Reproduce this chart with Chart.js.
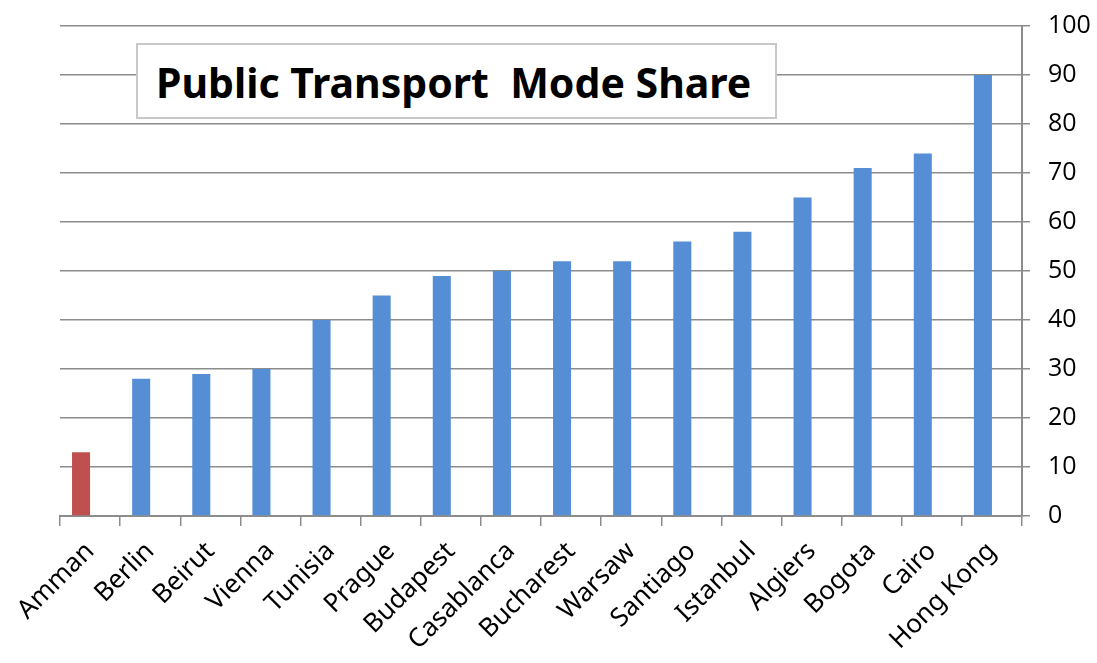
<!DOCTYPE html>
<html>
<head>
<meta charset="utf-8">
<title>Public Transport Mode Share</title>
<script src="https://cdn.jsdelivr.net/npm/chart.js@4/dist/chart.umd.min.js"></script>
<style>
  html, body { margin: 0; padding: 0; background: #fff; }
  #wrap { position: relative; width: 1097px; height: 663px; }
  #title {
    position: absolute; left: 136px; top: 43px; width: 619px; height: 72px;
    border: 2px solid #c8c8c8; background: #fff;
    font-family: "Noto Sans", sans-serif; font-weight: bold; font-size: 41px;
    line-height: 74px; padding-left: 18px; box-sizing: content-box;
    white-space: pre; color: #000;
  }
</style>
</head>
<body>
<div id="wrap">
  <canvas id="chart" width="1097" height="663"></canvas>
  <div id="title">Public Transport  Mode Share</div>
</div>
<script>
// ── Data ──
var cities = ["Amman", "Berlin", "Beirut", "Vienna", "Tunisia", "Prague", "Budapest",
  "Casablanca", "Bucharest", "Warsaw", "Santiago", "Istanbul", "Algiers", "Bogota",
  "Cairo", "Hong Kong"];
var modeShare = [13, 28, 29, 30, 40, 45, 49, 50, 52, 52, 56, 58, 65, 71, 74, 90];
var emptySeries = cities.map(function () { return null; }); // second (blank) series, shifts bars left
var yTicks = [0, 10, 20, 30, 40, 50, 60, 70, 80, 90, 100];
var highlightCity = "Amman";

var BLUE = "#558ed5";
var RED = "#c0504d";
var GRID = "#8c8c8c";

var barColors = cities.map(function (c) { return c === highlightCity ? RED : BLUE; });

new Chart(document.getElementById("chart"), {
  type: "bar",
  data: {
    labels: cities,
    datasets: [
      { label: "Mode share", data: modeShare, backgroundColor: barColors,
        categoryPercentage: 0.6, barPercentage: 1.0 },
      { label: "", data: emptySeries, backgroundColor: BLUE,
        categoryPercentage: 0.6, barPercentage: 1.0 },
    ],
  },
  options: {
    responsive: false,
    animation: false,
    layout: { padding: { left: 60, top: 26, right: 0, bottom: 0 } },
    plugins: { legend: { display: false }, tooltip: { enabled: false } },
    scales: {
      x: {
        grid: { display: true, drawOnChartArea: false, offset: true,
          color: GRID, lineWidth: 1.5, tickLength: 10 },
        border: { color: GRID, width: 2 },
        ticks: {
          color: "#000", maxRotation: 45, minRotation: 45, autoSkip: false,
          font: { family: "Noto Sans", size: 26 }, padding: 10,
        },
        afterFit: function (s) { s.height = 147; s.paddingLeft = 0; s.paddingRight = 0; },
      },
      y: {
        position: "right",
        min: 0, max: 100,
        afterBuildTicks: function (s) { s.ticks = yTicks.map(function (v) { return { value: v }; }); },
        grid: { color: GRID, lineWidth: 1.5, tickLength: 8 },
        border: { color: GRID, width: 2 },
        ticks: { color: "#000", font: { family: "Open Sans", size: 25 }, padding: 18 },
        afterFit: function (s) { s.width = 75; s.paddingTop = 0; s.paddingBottom = 0; },
      },
    },
  },
});
</script>
</body>
</html>
